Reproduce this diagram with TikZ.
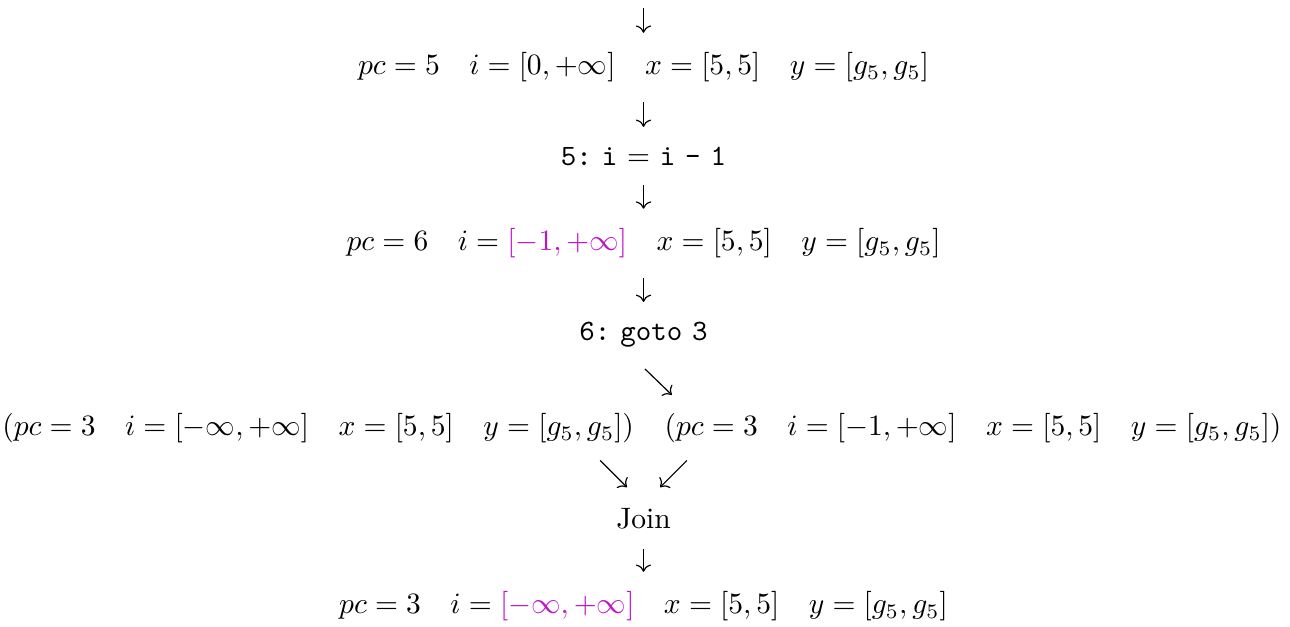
\documentclass[tikz,border=0pt]{standalone}
\usepackage{amsmath,amssymb}
\usepackage{tikz}
\usetikzlibrary{arrows.meta,positioning,calc}
\definecolor{widened}{RGB}{190,20,200}
\tikzset{
  st/.style   ={inner sep=0pt,anchor=base},
  stmt/.style ={inner sep=0pt,anchor=base},
  ar/.style   ={-{To},shorten <=6.5pt,shorten >=6.5pt},
  dg/.style   ={-{To}},
}
\newcommand{\wid}[1]{\textcolor{widened}{#1}}
\newcommand{\code}[1]{{\ttfamily\spaceskip=3.33pt plus 1pt minus 1pt\xspaceskip=\spaceskip #1}}

\begin{document}
\begin{tikzpicture}[x=1pt,y=1pt]
  \useasboundingbox (0,0) rectangle (437,-212.1);
  \coordinate (in) at (218,-2.7);
  \node[st] (s5) at (218,-25.3) {$pc=5\quad i=[0,+\infty]\quad x=[5,5]\quad y=[g_5,g_5]$};
  \node[stmt] (c5) at (218,-55.9) {\code{5: i} = \code{i - 1}};
  \node[st] (s6) at (218,-84.9) {$pc=6\quad i=\wid{[-1,+\infty]}\quad x=[5,5]\quad y=[g_5,g_5]$};
  \node[stmt] (c6) at (218,-115.2) {\code{6: goto 3}};
  \node[st,anchor=base west] (old) at (0.6,-147.6) {$(pc=3\quad i=[-\infty,+\infty]\quad x=[5,5]\quad y=[g_5,g_5])$};
  \node[st,anchor=west,right=10pt of old] (new) {$(pc=3\quad i=[-1,+\infty]\quad x=[5,5]\quad y=[g_5,g_5])$};
  \node[st] (join) at (218,-179.2) {Join};
  \node[st] (s3) at (218,-207.9) {$pc=3\quad i=\wid{[-\infty,+\infty]}\quad x=[5,5]\quad y=[g_5,g_5]$};
  % flow
  \draw[ar,shorten <=0pt] (in) -- (s5);
  \draw[ar] (s5) -- (c5);
  \draw[ar] (c5) -- (s6);
  \draw[ar] (s6) -- (c6);
  \draw[dg] ([shift={(0.5,-7.3)}]c6.south) -- ++(9.1,-8.8);
  \draw[dg] ([shift={(-14.7,16.2)}]join.north) -- ++(9.1,-9.1);
  \draw[dg] ([shift={(14.7,16.2)}]join.north) -- ++(-9.1,-9.1);
  \draw[ar] (join) -- (s3);
\end{tikzpicture}
\end{document}
